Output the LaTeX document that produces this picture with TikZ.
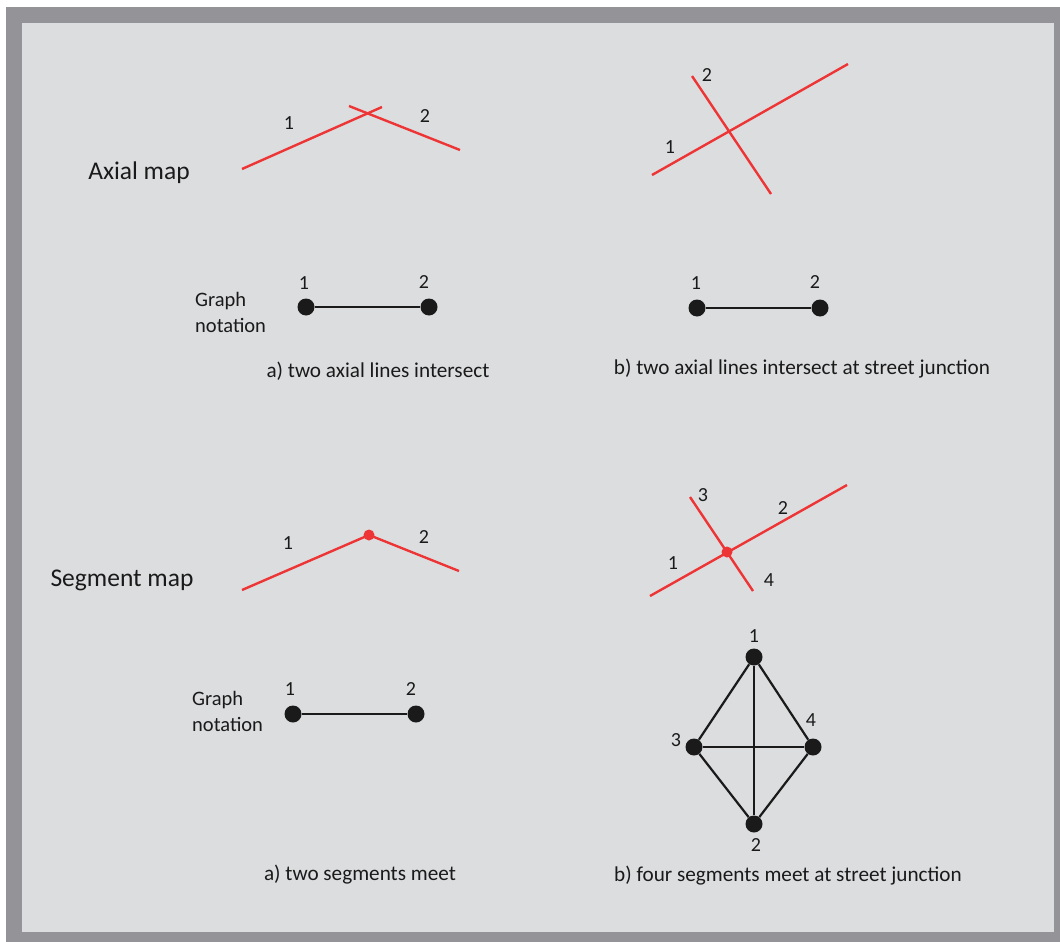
\documentclass[tikz,border=0pt]{standalone}
\usepackage{fontspec}
\setmainfont{Carlito}
\definecolor{frame}{HTML}{949498}
\definecolor{panel}{HTML}{DCDDDF}
\definecolor{streetred}{HTML}{EE3535}
\definecolor{ink}{HTML}{1A1A1A}
\begin{document}
\begin{tikzpicture}[x=1pt,y=-1pt,
  street/.style={draw=streetred,line width=2.4pt},
  edge/.style={draw=ink,line width=2.2pt},
  vertex/.style={circle,fill=ink,inner sep=0pt,minimum size=17pt},
  jdot/.style={circle,fill=streetred,inner sep=0pt,minimum size=11pt},
  num/.style={font=\fontsize{20}{22}\selectfont,text=ink,inner sep=0pt},
  title/.style={font=\fontsize{25.5}{28}\selectfont,text=ink,inner sep=0pt},
  gnote/.style={font=\fontsize{20.5}{26}\selectfont,text=ink,align=left,inner sep=0pt},
  caption/.style={font=\fontsize{21.2}{24}\selectfont,text=ink,inner sep=0pt}]
\useasboundingbox (0,0) rectangle (1060,942);
\fill[white] (0,0) rectangle (1060,942);
\fill[frame] (6,7) rectangle (1060,942);
\fill[panel] (22,23) rectangle (1054,932);

% titles
\node[title] (tAxial) at (139,173) {Axial map};
\node[title] (tSeg) at (122,580) {Segment map};

% top-left axial lines
\coordinate (a1s) at (242,169); \coordinate (a1e) at (382,107);
\coordinate (a2s) at (349,106); \coordinate (a2e) at (460,150);
\draw[street] (a1s) -- (a1e);
\draw[street] (a2s) -- (a2e);
\node[num] (la1) at (289,123) {1};
\node[num] (la2) at (425,116) {2};

% top-right axial lines
\coordinate (b1s) at (652,175); \coordinate (b1e) at (848,64);
\coordinate (b2s) at (692,76); \coordinate (b2e) at (771,194);
\draw[street] (b1s) -- (b1e);
\draw[street] (b2s) -- (b2e);
\node[num] (lb1) at (670,147) {1};
\node[num] (lb2) at (707,75) {2};

% top-left graph
\node[vertex] (ga1) at (306,307) {};
\node[vertex] (ga2) at (429,307) {};
\draw[edge] (ga1) -- (ga2);
\node[num] (nga1) at (304,283) {1};
\node[num] (nga2) at (424,282) {2};
\node[gnote,anchor=west] (gna) at (195,312) {Graph\\notation};
\node[caption] (capa) at (378,371) {a) two axial lines intersect};

% top-right graph
\node[vertex] (gb1) at (697,308) {};
\node[vertex] (gb2) at (820,308) {};
\draw[edge] (gb1) -- (gb2);
\node[num] (ngb1) at (696,283) {1};
\node[num] (ngb2) at (815,282) {2};
\node[caption] (capb) at (802,369) {b) two axial lines intersect at street junction};

% bottom-left segments
\coordinate (c1s) at (242,590); \coordinate (cm) at (369,535); \coordinate (c2e) at (459,571);
\draw[street] (c1s) -- (cm) -- (c2e);
\node[jdot] (jc) at (cm) {};
\node[num] (lc1) at (288,543) {1};
\node[num] (lc2) at (424,537) {2};

% bottom-right segments
\coordinate (d1s) at (650,596); \coordinate (d1e) at (847,485);
\coordinate (d2s) at (690,497); \coordinate (d2e) at (753,591);
\draw[street] (d1s) -- (d1e);
\draw[street] (d2s) -- (d2e);
\node[jdot] (jd) at (727,552) {};
\node[num] (ld3) at (703,495) {3};
\node[num] (ld2) at (783,508) {2};
\node[num] (ld1) at (673,563) {1};
\node[num] (ld4) at (769,580) {4};

% bottom-left graph
\node[vertex] (gc1) at (293,714) {};
\node[vertex] (gc2) at (416,714) {};
\draw[edge] (gc1) -- (gc2);
\node[num] (ngc1) at (290,689) {1};
\node[num] (ngc2) at (411,689) {2};
\node[gnote,anchor=west] (gnc) at (192,711) {Graph\\notation};
\node[caption] (capc) at (360,875) {a) two segments meet};

% bottom-right graph
\node[vertex] (gd1) at (754,657) {};
\node[vertex] (gd3) at (694,747) {};
\node[vertex] (gd4) at (813,747) {};
\node[vertex] (gd2) at (754,824) {};
\draw[edge] (gd1) -- (gd3) -- (gd2) -- (gd4) -- (gd1);
\draw[edge] (gd1) -- (gd2);
\draw[edge] (gd3) -- (gd4);
\node[num] (ngd1) at (754,636) {1};
\node[num] (ngd4) at (811,720) {4};
\node[num] (ngd3) at (676,740) {3};
\node[num] (ngd2) at (756,845) {2};
\node[caption] (capd) at (788,876) {b) four segments meet at street junction};
\end{tikzpicture}
\end{document}
